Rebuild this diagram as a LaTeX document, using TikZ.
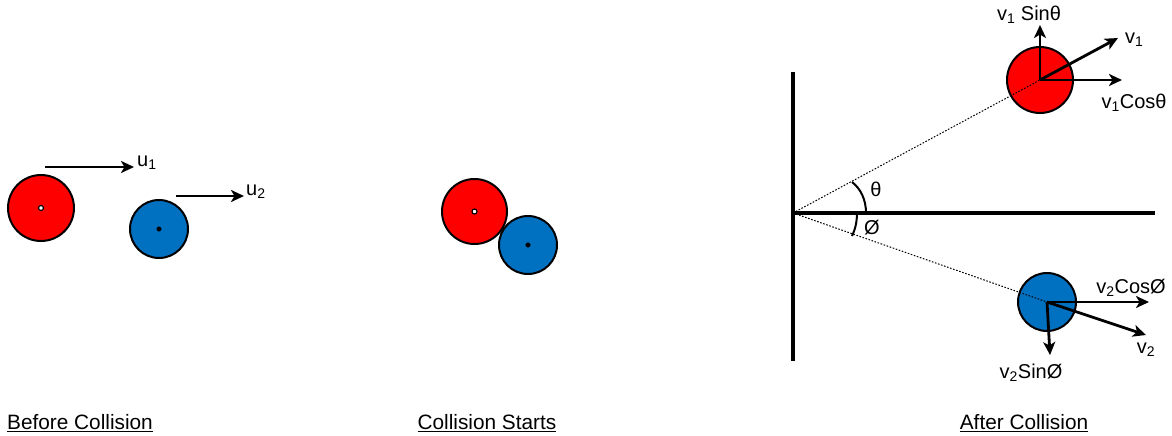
\documentclass[tikz,border=0pt]{standalone}
\usepackage{fontspec}
\setmainfont{Liberation Sans}
\usetikzlibrary{arrows.meta}
\definecolor{ballred}{RGB}{255,0,0}
\definecolor{ballblue}{RGB}{0,112,192}
\begin{document}
\begin{tikzpicture}[x=1pt,y=-1pt,
  ball/.style={circle,draw=black,line width=2pt,inner sep=0pt,minimum size=#1},
  redball/.style={ball=#1,fill=ballred},
  blueball/.style={ball=#1,fill=ballblue},
  whitedot/.style={circle,draw=black,fill=white,line width=1.2pt,inner sep=0pt,minimum size=5pt},
  blackdot/.style={circle,draw=black,fill=black,inner sep=0pt,minimum size=4.5pt},
  vec/.style={line width=2.8pt,-{Stealth[length=13pt,width=12pt,inset=3.5pt]}},
  wall/.style={line width=4.8pt},
  guide/.style={line width=1pt,dash pattern=on 1.6pt off 1.6pt,black},
  anglearc/.style={line width=2pt},
  lab/.style={font=\fontsize{20}{22}\selectfont,inner sep=0pt},
  caption/.style={font=\fontsize{20.8}{23}\selectfont,inner sep=0pt}]
\useasboundingbox (0,0) rectangle (1172,436);

% ---------- Before collision ----------
\node[redball=66pt] (r1) at (41,208) {};
\node[whitedot] (r1c) at (r1.center) {};
\node[blueball=58pt] (b1) at (159,229) {};
\node[blackdot] (b1c) at (b1.center) {};
\coordinate (u1s) at (45,167);
\coordinate (u1e) at (134,167);
\draw[vec] (u1s) -- (u1e);
\node[lab,anchor=west] (u1l) at (137,163) {u\textsubscript{1}};
\coordinate (u2s) at (176,196);
\coordinate (u2e) at (244,196);
\draw[vec] (u2s) -- (u2e);
\node[lab,anchor=west] (u2l) at (246,192) {u\textsubscript{2}};
\node[caption] (cap1) at (80,423) {\underline{Before Collision}};

% ---------- Collision starts ----------
\node[redball=65pt] (r2) at (474.5,211.5) {};
\node[whitedot] (r2c) at (r2.center) {};
\node[blueball=58pt] (b2) at (528,245) {};
\node[blackdot] (b2c) at (b2.center) {};
\node[caption] (cap2) at (487,423) {\underline{Collision Starts}};

% ---------- After collision ----------
\coordinate (wtop) at (793,72);
\coordinate (wbot) at (793,361);
\coordinate (o) at (793,213);
\coordinate (hend) at (1155,213);
\draw[wall] (wtop) -- (wbot);
\draw[wall] (o) -- (hend);

\node[redball=66pt] (r3) at (1040,80) {};
\node[blueball=58pt] (b3) at (1047,302) {};
\draw[guide] (o) -- (r3.center);
\draw[guide] (o) -- (b3.center);

\coordinate (s1) at (1040,25);
\coordinate (v1e) at (1118,38);
\coordinate (c1) at (1122,80);
\draw[vec] (r3.center) -- (s1);
\draw[vec] (r3.center) -- (v1e);
\draw[vec] (r3.center) -- (c1);
\node[lab] (s1l) at (1029,15) {v\textsubscript{1} Sinθ};
\node[lab,anchor=west] (v1l) at (1125,40) {v\textsubscript{1}};
\node[lab] (c1l) at (1134,103) {v\textsubscript{1}Cosθ};

\coordinate (c2) at (1149,302);
\coordinate (v2e) at (1146,335);
\coordinate (s2) at (1050,355);
\draw[vec] (b3.center) -- (c2);
\draw[vec] (b3.center) -- (v2e);
\draw[vec] (b3.center) -- (s2);
\node[lab] (c2l) at (1131,288) {v\textsubscript{2}CosØ};
\node[lab] (v2l) at (1146,350) {v\textsubscript{2}};
\node[lab] (s2l) at (1031,373) {v\textsubscript{2}SinØ};

\coordinate (ta) at (852,182);
\coordinate (tb) at (866,213);
\draw[anglearc] (ta) .. controls (861,189) and (866,200) .. (tb);
\node[lab] (thl) at (876,189) {θ};
\coordinate (pa) at (857,213);
\coordinate (pb) at (852,236);
\draw[anglearc] (pa) .. controls (857,222) and (855,230) .. (pb);
\node[lab] (phl) at (872,228) {Ø};

\node[caption] (cap3) at (1024,423) {\underline{After Collision}};
\end{tikzpicture}
\end{document}
